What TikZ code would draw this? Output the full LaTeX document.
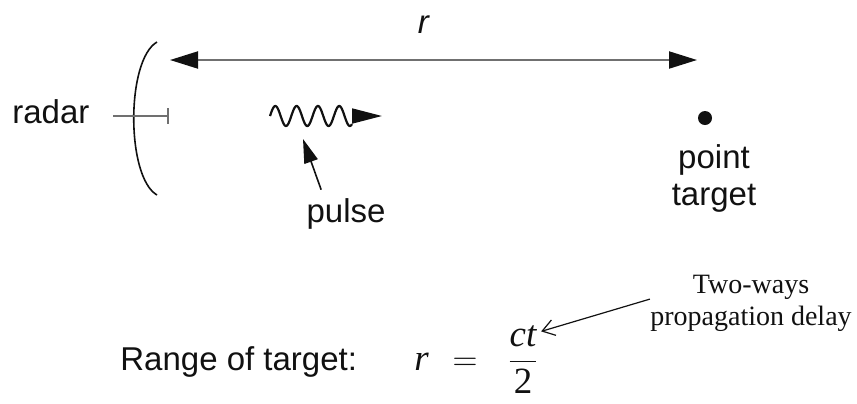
\documentclass[tikz,border=0pt]{standalone}
\usepackage{fontspec}
\setmainfont{Liberation Serif}
\setsansfont{Liberation Sans}
\usepackage{tikz}
\usetikzlibrary{arrows.meta,positioning,calc}
\definecolor{ink}{HTML}{111111}
\definecolor{wire}{HTML}{707070}
\tikzset{
  >={Triangle[length=14pt,width=8.5pt,color=ink]},
  lab/.style={font=\sffamily\fontsize{16.5}{18.5}\selectfont,inner sep=0pt,align=center,text=ink},
  note/.style={font=\fontsize{14}{16}\selectfont,inner sep=0pt,align=center,text=ink},
  eq/.style={font=\rmfamily\fontsize{18.5}{22}\selectfont,inner sep=0pt,anchor=base,text=ink},
  rng/.style={<->,draw=wire,line width=1pt},
  dish/.style={draw=ink,line width=0.8pt},
  feed/.style={-{Bar[width=8pt]},draw=wire,line width=0.8pt},
  wave/.style={draw=ink,line width=1.1pt},
  ptr/.style={->,draw=ink,line width=0.8pt},
  thin/.style={-{Straight Barb[length=6pt,width=8pt]},draw=ink,line width=0.6pt},
}
\begin{document}
\begin{tikzpicture}[x=0.5pt,y=-0.5pt]
\useasboundingbox (0,0) rectangle (857,403);
% range arrow
\coordinate (rleft) at (170,60);
\coordinate (rright) at (697,60);
\draw[rng] (rleft) -- (rright);
\node[lab,anchor=base] (rlab) at (424,33) {\textit{r}};
% radar antenna
\node[lab,anchor=base west] (radar) at (12,123) {radar};
\draw[dish] (157,42) .. controls (126,60) and (126,177) .. (157,195);
\coordinate (feedin) at (113,116);
\coordinate (feedout) at (169,116);
\draw[feed] (feedin) -- (feedout);
% pulse
\coordinate (wavestart) at (270,116);
\coordinate (waveend) at (352,116);
\coordinate (pulsetip) at (382,116);
\draw[wave] plot[domain=0:82,samples=120] ({270+\x},{116-10*sin(\x*16.9)});
\draw[->,>={Triangle[length=15pt,width=7.5pt,color=ink]},draw=ink,line width=0.9pt] (waveend) -- (pulsetip);
\node[lab,anchor=base] (pulse) at (346,222) {pulse};
\draw[ptr,>={Triangle[length=12pt,width=7pt,color=ink]}] ([shift={(15,-8)}]pulse.north west) -- ([shift={(33,23)}]wavestart);
% point target
\node[circle,fill=ink,inner sep=0pt,minimum size=7pt] (target) at (705,118) {};
\node[lab,anchor=north] (targetlab) at (714,144) {point\\target};
% range equation
\node[lab,anchor=base west] (range) at (120,370) {Range of target:};
\node[eq] (eqr) at (421.5,370) {\textit{r}};
\node[eq] (eqeq) at (465,370) {$=$};
\node[eq] (eqfrac) at (523,370) {$\displaystyle\frac{\textit{ct}}{\textrm{2}}$};
\node[note,anchor=north] (delay) at (751,274.5) {Two-ways\\propagation delay};
\draw[thin] ([yshift=2pt]delay.west) -- ([shift={(2,6)}]eqfrac.north east);
\end{tikzpicture}
\end{document}
